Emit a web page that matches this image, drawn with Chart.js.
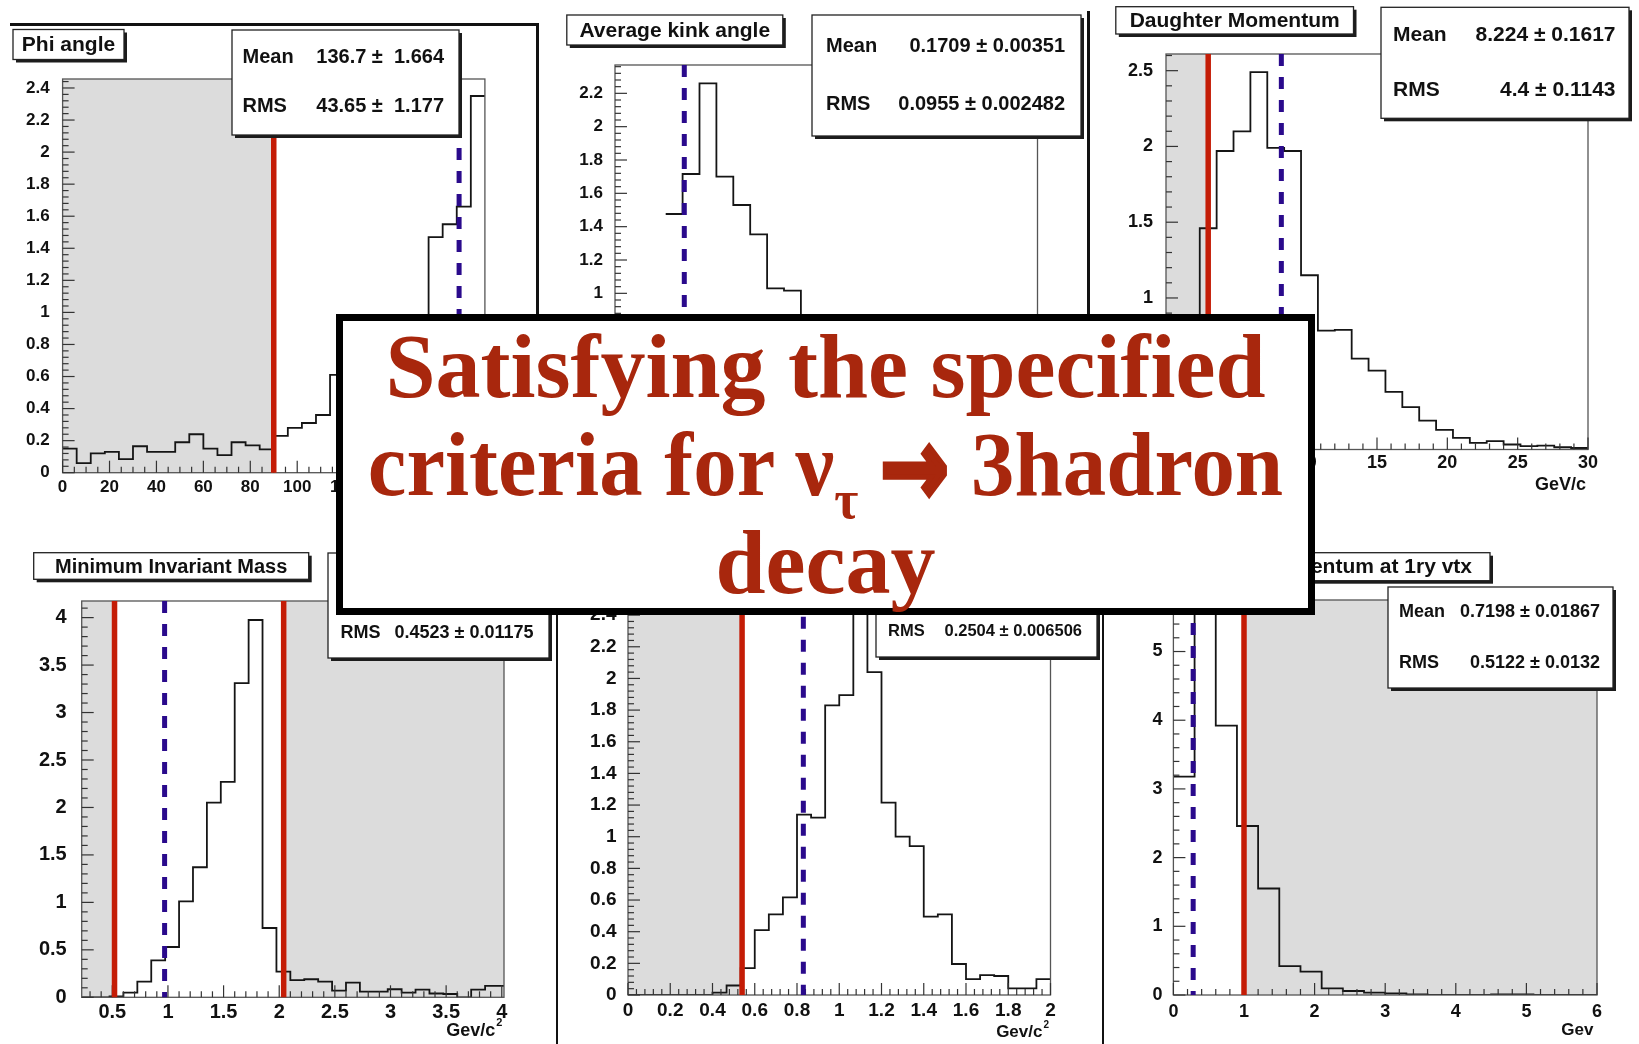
<!DOCTYPE html>
<html>
<head>
<meta charset="utf-8">
<title>Selection criteria for the 3-hadron tau decay</title>
<script src="https://cdn.jsdelivr.net/npm/chart.js@4.4.1/dist/chart.umd.min.js"></script>
<style>
  html, body { margin: 0; padding: 0; background: #fff; }
  #stage { position: relative; width: 1639px; height: 1044px; overflow: hidden; background: #fff; }
  #stage canvas { position: absolute; left: 0; top: 0; width: 1639px; height: 1044px; }
  .rule { position: absolute; background: #111; z-index: 5; }
  #banner {
    position: absolute; left: 336px; top: 314px; width: 979px; height: 301px;
    box-sizing: border-box; border: 7px solid #000; background: #fff; z-index: 10;
    font-family: "Liberation Serif", "Times New Roman", serif; font-weight: bold;
    color: #a8270d; font-size: 90px; line-height: 98px; text-align: center;
  }
  #banner .lines { position: absolute; left: 0; right: 0; top: -3px; white-space: nowrap; }
  #banner .narrow { transform: scaleX(0.965); transform-origin: 50% 50%; }
  #banner .sub { font-size: 0.6em; position: relative; top: 0.42em; line-height: 0; }
  #banner .arr {
    display: inline-block; font-family: "DejaVu Sans", sans-serif; font-weight: bold;
    font-size: 0.9em; line-height: 0; -webkit-text-stroke: 4px #a8270d;
    transform: scale(1.05, 1.35); margin: 0 2px;
  }
</style>
</head>
<body>
<div id="stage">
  <div class="rule" style="left:10px;top:23px;width:529px;height:3px"></div>
  <div class="rule" style="left:536px;top:23px;width:3px;height:292px"></div>
  <div class="rule" style="left:1087px;top:11px;width:3px;height:304px"></div>
  <div class="rule" style="left:556px;top:612px;width:2px;height:432px"></div>
  <div class="rule" style="left:1102px;top:612px;width:2px;height:432px"></div>
  <div id="banner">
    <div class="lines">
      <div>Satisfying the specified</div>
      <div class="narrow">criteria for &nu;<span class="sub">&tau;</span> <span class="arr">&rarr;</span> 3hadron</div>
      <div>decay</div>
    </div>
  </div>
</div>
<script>
// ---------------- histogram contents ----------------
// Phi angle [deg], 6 deg bins
const phiLow = 0, phiWidth = 6;
const phiCounts = [0.15, 0.06, 0.12, 0.13, 0.085, 0.165, 0.13, 0.13, 0.19, 0.24,
                   0.15, 0.11, 0.19, 0.17, 0.145, 0.23, 0.28, 0.31, 0.36, 0.61,
                   0.66, 0.74, 0.81, 0.87, 0.92, 0.96, 1.47, 1.55, 1.66, 2.35];
const phiXLabels = ['0', '20', '40', '60', '80', '100', '120', '140', '160', '180'];
const phiYLabels = ['0', '0.2', '0.4', '0.6', '0.8', '1', '1.2', '1.4', '1.6', '1.8', '2', '2.2', '2.4'];
const phiShade = [[0, 90]];
const phiCuts = [90];
const phiRefs = [169];
const phiStats = [['Mean', '136.7 \u00b1  1.664'], ['RMS', '43.65 \u00b1  1.177']];

// Average kink angle [rad], 0.02 bins
const kinkLow = 0, kinkWidth = 0.02;
const kinkCounts = [null, null, null, 1.476, 1.716, 2.26, 1.70, 1.53, 1.354, 1.03,
                    1.016, 0.80, 0.62, 0.48, 0.38, 0.29, 0.22, 0.16, 0.12, 0.09,
                    0.06, 0.05, 0.03, 0.02, 0.01];
const kinkXLabels = ['0', '0.1', '0.2', '0.3', '0.4', '0.5'];
const kinkYLabels = ['0', '0.2', '0.4', '0.6', '0.8', '1', '1.2', '1.4', '1.6', '1.8', '2', '2.2'];
const kinkShade = [];
const kinkCuts = [];
const kinkRefs = [0.082];
const kinkStats = [['Mean', '0.1709 \u00b1 0.00351'], ['RMS', '0.0955 \u00b1 0.002482']];

// Daughter momentum [GeV/c], 1.2 GeV/c bins
const dauLow = 0, dauWidth = 1.2;
const dauCounts = [0.02, 0.45, 1.46, 1.97, 2.10, 2.49, 1.99, 1.97, 1.15, 0.785,
                   0.79, 0.60, 0.52, 0.38, 0.28, 0.19, 0.13, 0.077, 0.044, 0.055,
                   0.033, 0.022, 0.026, 0.015, 0.01];
const dauXLabels = ['0', '5', '10', '15', '20', '25', '30'];
const dauYLabels = ['0', '0.5', '1', '1.5', '2', '2.5'];
const dauShade = [[0, 3]];
const dauCuts = [3];
const dauRefs = [8.2];
const dauStats = [['Mean', '8.224 \u00b1 0.1617'], ['RMS', '4.4 \u00b1 0.1143']];

// Minimum invariant mass [GeV/c^2], 0.125 bins
const minvLow = 0.225, minvWidth = 0.125;
const minvCounts = [0, 0, 0.01, 0.05, 0.165, 0.39, 0.53, 1.01, 1.37, 2.05,
                    2.27, 3.31, 3.975, 0.73, 0.27, 0.18, 0.19, 0.165, 0.07, 0.155,
                    0.06, 0.06, 0.085, 0.05, 0.08, 0.04, 0.035, 0.0, 0.08, 0.12, 0.12];
const minvXLabels = ['0.5', '1', '1.5', '2', '2.5', '3', '3.5', '4'];
const minvYLabels = ['0', '0.5', '1', '1.5', '2', '2.5', '3', '3.5', '4'];
const minvShade = [[0.225, 0.52], [2.04, 4.02]];
const minvCuts = [0.52, 2.04];
const minvRefs = [0.97];
const minvStats = [['RMS', '0.4523 \u00b1 0.01175']];

// Invariant mass [GeV/c^2], 1/15 bins
const invLow = 0, invWidth = 1 / 15;
const invCounts = [0, 0, 0, 0, 0, 0, 0.015, 0.06, 0.17, 0.41,
                   0.51, 0.617, 1.14, 1.12, 1.83, 1.895, 2.55, 2.04, 1.215, 1.0,
                   0.94, 0.495, 0.51, 0.196, 0.10, 0.126, 0.12, 0.042, 0.042, 0.10];
const invXLabels = ['0', '0.2', '0.4', '0.6', '0.8', '1', '1.2', '1.4', '1.6', '1.8', '2'];
const invYLabels = ['0', '0.2', '0.4', '0.6', '0.8', '1', '1.2', '1.4', '1.6', '1.8', '2', '2.2', '2.4'];
const invShade = [[0, 0.54]];
const invCuts = [0.54];
const invRefs = [0.83];
const invStats = [['RMS', '0.2504 \u00b1 0.006506']];

// Momentum at primary vertex [GeV], 0.3 bins
const vtxLow = 0, vtxWidth = 0.3;
const vtxCounts = [3.18, 5.62, 3.92, 2.46, 1.55, 0.42, 0.34, 0.097, 0.058, 0.034,
                   0.024, 0.01, 0, 0, 0, 0.01, 0.01, 0, 0, 0];
const vtxXLabels = ['0', '1', '2', '3', '4', '5', '6'];
const vtxYLabels = ['0', '1', '2', '3', '4', '5'];
const vtxShade = [[1, 6]];
const vtxCuts = [1];
const vtxRefs = [0.28];
const vtxStats = [['Mean', '0.7198 \u00b1 0.01867'], ['RMS', '0.5122 \u00b1 0.0132']];

// ---------------- drawing helpers ----------------
const W = 1639, H = 1044;
const SANS = '"Liberation Sans", Arial, Helvetica, sans-serif';
const Y_AXIS_W = 50, X_AXIS_H = 40;

function histPoints(lo, width, counts) {
  const pts = counts.map((c, i) => ({ x: lo + i * width, y: c }));
  pts.push({ x: lo + counts.length * width, y: counts[counts.length - 1] });
  return pts;
}

function shadowBox(ctx, x, y, w, h) {
  ctx.fillStyle = '#1c1c1c';
  ctx.fillRect(x + 3, y + 3, w, h);
  ctx.fillStyle = '#fff';
  ctx.fillRect(x, y, w, h);
  ctx.strokeStyle = '#222';
  ctx.lineWidth = 1.3;
  ctx.strokeRect(x, y, w, h);
}

function drawTicks(ctx, a, scale, step, nSub, horizontal, majLen, minLen) {
  const minor = step / nSub;
  const k0 = Math.ceil(scale.min / minor - 1e-6), k1 = Math.floor(scale.max / minor + 1e-6);
  ctx.strokeStyle = '#333';
  ctx.lineWidth = 1.2;
  for (let k = k0; k <= k1; k++) {
    const len = (k % nSub === 0) ? majLen : minLen;
    const p = scale.getPixelForValue(k * minor);
    ctx.beginPath();
    if (horizontal) { ctx.moveTo(p, a.bottom); ctx.lineTo(p, a.bottom - len); }
    else { ctx.moveTo(a.left, p); ctx.lineTo(a.left + len, p); }
    ctx.stroke();
  }
}

function decorPlugin(p) {
  return {
    id: 'rootDecor',
    beforeDatasetsDraw(chart) {
      const { ctx, chartArea: a, scales: { x } } = chart;
      ctx.save();
      ctx.fillStyle = '#dcdcdc';
      for (const [s, e] of p.shade) {
        const x0 = Math.max(a.left, x.getPixelForValue(s));
        const x1 = Math.min(a.right, x.getPixelForValue(e));
        ctx.fillRect(x0, a.top, x1 - x0, a.bottom - a.top);
      }
      ctx.restore();
    },
    afterDatasetsDraw(chart) {
      const { ctx, chartArea: a, scales: { x, y } } = chart;
      ctx.save();
      // frame and inward ticks
      ctx.strokeStyle = '#555';
      ctx.lineWidth = 1.3;
      ctx.strokeRect(a.left, a.top, a.right - a.left, a.bottom - a.top);
      drawTicks(ctx, a, x, p.xStep, p.xSub, true, 12, 6);
      drawTicks(ctx, a, y, p.yStep, p.ySub, false, 12, 6);
      // selection cuts (solid red) and reference values (dashed blue)
      ctx.lineWidth = 5.5;
      ctx.strokeStyle = '#c41c06';
      for (const c of p.cuts) {
        const px = x.getPixelForValue(c);
        ctx.beginPath(); ctx.moveTo(px, a.top); ctx.lineTo(px, a.bottom); ctx.stroke();
      }
      ctx.lineWidth = 5;
      ctx.strokeStyle = '#2a0a8c';
      ctx.setLineDash([12, 11]);
      for (const r of p.refs) {
        const px = x.getPixelForValue(r);
        ctx.beginPath(); ctx.moveTo(px, a.top); ctx.lineTo(px, a.bottom); ctx.stroke();
      }
      ctx.setLineDash([]);
      // axis title
      if (p.axisTitle) {
        const t = p.axisTitle;
        ctx.fillStyle = '#111';
        ctx.textBaseline = 'alphabetic';
        ctx.textAlign = 'right';
        let right = t.right;
        if (t.sup) {
          ctx.font = `bold ${Math.round(t.size * 0.6)}px ${SANS}`;
          ctx.fillText(t.sup, right, t.baseline - t.size * 0.55);
          right -= ctx.measureText(t.sup).width + 1;
        }
        ctx.font = `bold ${t.size}px ${SANS}`;
        ctx.fillText(t.text, right, t.baseline);
      }
      // statistics box
      if (p.stats) {
        const s = p.stats;
        shadowBox(ctx, s.x, s.y, s.w, s.h);
        ctx.fillStyle = '#111';
        ctx.font = `bold ${s.size}px ${SANS}`;
        ctx.textBaseline = 'middle';
        p.statRows.forEach((row, i) => {
          ctx.textAlign = 'left';
          ctx.fillText(row[0], s.x + s.padL, s.rows[i]);
          ctx.textAlign = 'right';
          ctx.fillText(row[1], s.x + s.w - s.padR, s.rows[i]);
        });
      }
      // histogram title
      if (p.title) {
        const t = p.title;
        ctx.font = `bold ${t.size}px ${SANS}`;
        const tw = ctx.measureText(t.text).width;
        let x0 = t.x, x1 = t.x + t.w;
        if (t.right != null) { x1 = t.right; x0 = x1 - tw - 2 * t.pad; }
        shadowBox(ctx, x0, t.y, x1 - x0, t.h);
        ctx.fillStyle = '#111';
        ctx.textAlign = 'center';
        ctx.textBaseline = 'middle';
        ctx.fillText(t.text, (x0 + x1) / 2, t.y + t.h / 2 + 1);
      }
      ctx.restore();
    }
  };
}

function makePanel(p) {
  const canvas = document.createElement('canvas');
  canvas.width = W; canvas.height = H;
  document.getElementById('stage').appendChild(canvas);
  const xVals = p.xLabels.map(Number), yVals = p.yLabels.map(Number);
  const font = { family: SANS, weight: 'bold', size: p.tickSize };
  new Chart(canvas, {
    type: 'line',
    data: {
      datasets: [{
        data: histPoints(p.lo, p.width, p.counts),
        borderColor: '#151515', borderWidth: 1.8,
        pointRadius: 0, stepped: true, fill: false, spanGaps: false
      }]
    },
    options: {
      responsive: false, animation: false, events: [],
      layout: { padding: { left: p.area.l - Y_AXIS_W, top: p.area.t, right: W - p.area.r, bottom: H - p.area.b - X_AXIS_H } },
      plugins: { legend: { display: false }, tooltip: { enabled: false }, title: { display: false } },
      scales: {
        x: {
          type: 'linear', min: p.xMin, max: p.xMax,
          afterFit: s => { s.height = X_AXIS_H; },
          afterBuildTicks: s => { s.ticks = xVals.map(v => ({ value: v })); },
          ticks: { callback: (v, i) => p.xLabels[i], font, color: '#111', padding: p.xPad, maxRotation: 0, minRotation: 0, autoSkip: false },
          grid: { display: false }, border: { display: false }
        },
        y: {
          type: 'linear', min: 0, max: p.yMax,
          afterFit: s => { s.width = Y_AXIS_W; },
          afterBuildTicks: s => { s.ticks = yVals.map(v => ({ value: v })); },
          ticks: { callback: (v, i) => p.yLabels[i], font, color: '#111', padding: p.yPad, autoSkip: false },
          grid: { display: false }, border: { display: false }
        }
      }
    },
    plugins: [decorPlugin(p)]
  });
}

// ---------------- the six panels ----------------
makePanel({
  lo: phiLow, width: phiWidth, counts: phiCounts,
  xLabels: phiXLabels, yLabels: phiYLabels, xMin: 0, xMax: 180, yMax: 2.456,
  xStep: 20, xSub: 4, yStep: 0.2, ySub: 5, tickSize: 17, xPad: -4, yPad: 5,
  area: { l: 62.6, t: 79, r: 484.9, b: 472.7 },
  shade: phiShade, cuts: phiCuts, refs: phiRefs,
  title: { text: 'Phi angle', x: 13, y: 29.5, w: 111, h: 30, size: 21 },
  stats: { x: 232, y: 30, w: 227, h: 105, rows: [57.3, 106.7], size: 20, padL: 10.5, padR: 15 },
  statRows: phiStats
});

makePanel({
  lo: kinkLow, width: kinkWidth, counts: kinkCounts,
  xLabels: kinkXLabels, yLabels: kinkYLabels, xMin: 0, xMax: 0.5, yMax: 2.37,
  xStep: 0.1, xSub: 5, yStep: 0.2, ySub: 5, tickSize: 17, xPad: -4, yPad: 4,
  area: { l: 615, t: 65, r: 1037.5, b: 460 },
  shade: kinkShade, cuts: kinkCuts, refs: kinkRefs,
  title: { text: 'Average kink angle', x: 566.8, y: 15, w: 216, h: 30, size: 21 },
  stats: { x: 812, y: 15, w: 269, h: 121, rows: [46.7, 104], size: 20, padL: 14, padR: 16 },
  statRows: kinkStats
});

makePanel({
  lo: dauLow, width: dauWidth, counts: dauCounts,
  xLabels: dauXLabels, yLabels: dauYLabels, xMin: 0, xMax: 30, yMax: 2.61,
  xStep: 5, xSub: 5, yStep: 0.5, ySub: 5, tickSize: 18, xPad: -5, yPad: 5,
  area: { l: 1166, t: 54, r: 1588, b: 449.5 },
  shade: dauShade, cuts: dauCuts, refs: dauRefs,
  title: { text: 'Daughter Momentum', x: 1115.8, y: 6.7, w: 237.7, h: 27.3, size: 21 },
  stats: { x: 1381, y: 7.3, w: 248, h: 111, rows: [35, 90], size: 21, padL: 12, padR: 13.5 },
  statRows: dauStats,
  axisTitle: { text: 'GeV/c', right: 1586, baseline: 490, size: 18 }
});

makePanel({
  lo: minvLow, width: minvWidth, counts: minvCounts,
  xLabels: minvXLabels, yLabels: minvYLabels, xMin: 0.225, xMax: 4.02, yMax: 4.175,
  xStep: 0.5, xSub: 5, yStep: 0.5, ySub: 5, tickSize: 20, xPad: -5, yPad: 7,
  area: { l: 81.7, t: 601, r: 504, b: 997.3 },
  shade: minvShade, cuts: minvCuts, refs: minvRefs,
  title: { text: 'Minimum Invariant Mass', x: 33.7, y: 552.7, w: 275, h: 26.6, size: 20 },
  stats: { x: 328, y: 553, w: 221, h: 105, rows: [633.3], size: 18, padL: 12.6, padR: 15.5 },
  statRows: minvStats,
  axisTitle: { text: 'Gev/c', sup: '2', right: 502.3, baseline: 1036, size: 18 }
});

makePanel({
  lo: invLow, width: invWidth, counts: invCounts,
  xLabels: invXLabels, yLabels: invYLabels, xMin: 0, xMax: 2, yMax: 2.68,
  xStep: 0.2, xSub: 5, yStep: 0.2, ySub: 5, tickSize: 19, xPad: -4, yPad: 3.5,
  area: { l: 628, t: 570.8, r: 1050.5, b: 995 },
  shade: invShade, cuts: invCuts, refs: invRefs,
  stats: { x: 876, y: 545, w: 221, h: 112, rows: [631.7], size: 16.5, padL: 12, padR: 15 },
  statRows: invStats,
  axisTitle: { text: 'Gev/c', sup: '2', right: 1049, baseline: 1037, size: 17 }
});

makePanel({
  lo: vtxLow, width: vtxWidth, counts: vtxCounts,
  xLabels: vtxXLabels, yLabels: vtxYLabels, xMin: 0, xMax: 6, yMax: 5.75,
  xStep: 1, xSub: 5, yStep: 1, ySub: 5, tickSize: 18, xPad: -2, yPad: 3,
  area: { l: 1173.4, t: 600, r: 1597, b: 995 },
  shade: vtxShade, cuts: vtxCuts, refs: vtxRefs,
  title: { text: 'Momentum at 1ry vtx', right: 1490, pad: 18, y: 552.7, h: 28, size: 21 },
  stats: { x: 1388, y: 587, w: 225, h: 101, rows: [611.7, 663.3], size: 18, padL: 11, padR: 13 },
  statRows: vtxStats,
  axisTitle: { text: 'Gev', right: 1593.4, baseline: 1035, size: 17 }
});
</script>
</body>
</html>
